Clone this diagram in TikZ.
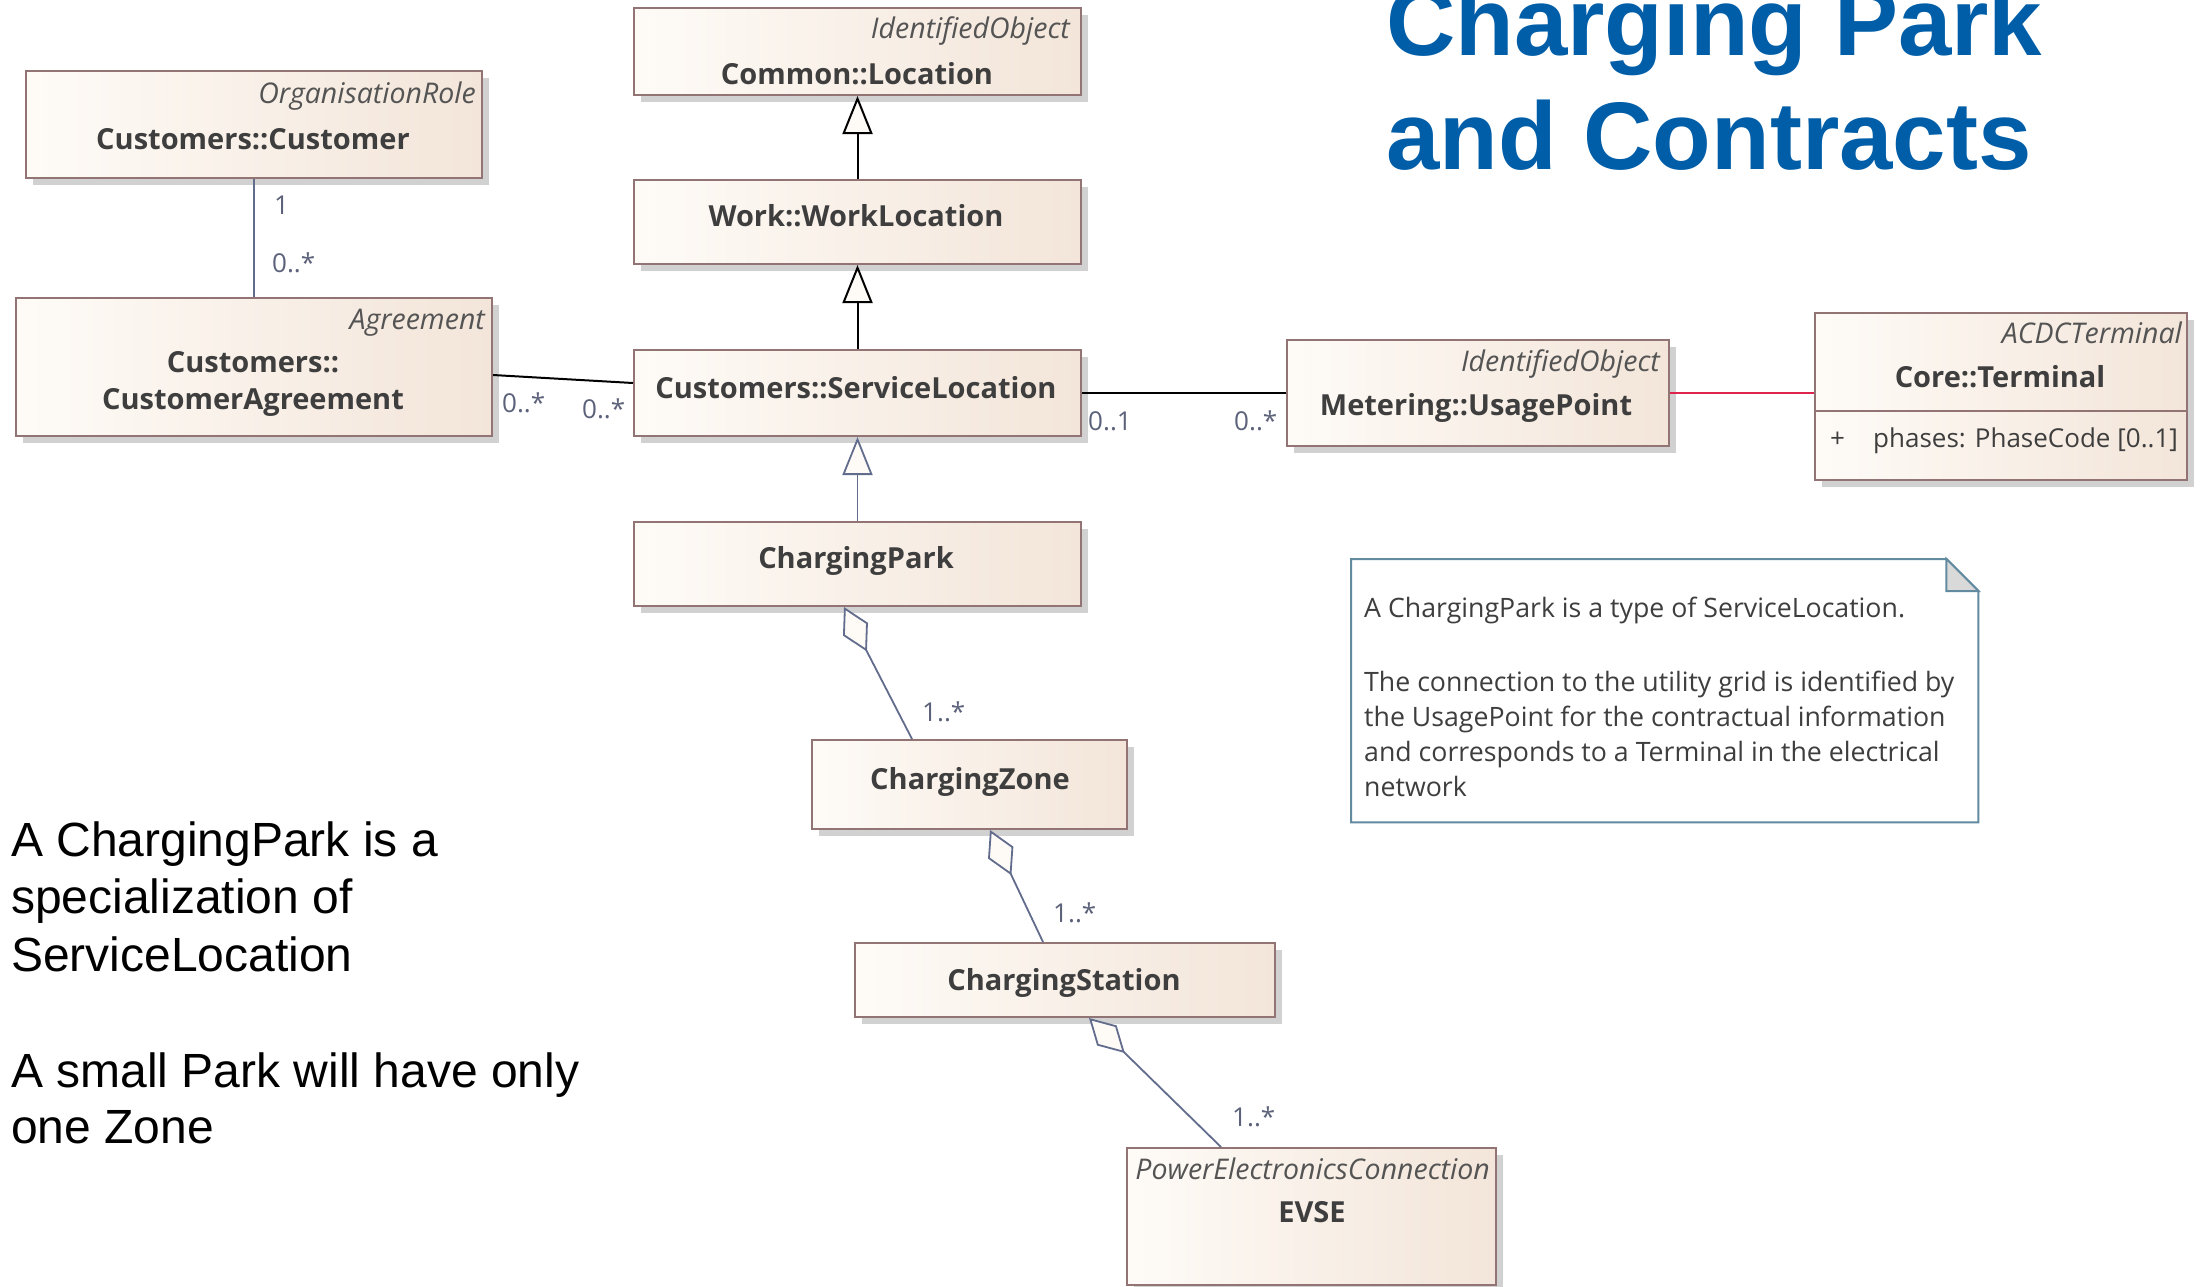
\documentclass[tikz,border=0pt]{standalone}
\usepackage{fontspec}
\setmainfont{Open Sans}
\newfontfamily\titlefont{Liberation Sans}
\newfontfamily\bodyfont{Liberation Sans}
\usetikzlibrary{arrows.meta,shadows,calc}

\definecolor{clsL}{RGB}{254,251,247}
\definecolor{clsR}{RGB}{243,229,217}
\definecolor{clsBorder}{RGB}{146,116,116}
\definecolor{clsText}{RGB}{62,62,62}
\definecolor{stereoText}{RGB}{84,84,84}
\definecolor{multText}{RGB}{92,98,122}
\definecolor{assocGrey}{RGB}{98,108,140}
\definecolor{linkRed}{RGB}{220,36,76}
\definecolor{noteBorder}{RGB}{98,138,160}
\definecolor{noteFold}{RGB}{217,217,217}
\definecolor{titleBlue}{RGB}{0,94,168}

\tikzset{
  classbox/.style={draw=clsBorder, line width=2pt, left color=clsL, right color=clsR,
    drop shadow={shadow xshift=7pt, shadow yshift=-7pt, fill=black!18, opacity=1},
    inner sep=0pt, anchor=north west},
  clsname/.style={inner sep=0pt, anchor=base, text=clsText, font=\fontsize{29}{34}\selectfont\bfseries},
  stereo/.style={inner sep=0pt, anchor=base east, text=stereoText, font=\fontsize{28.5}{33}\selectfont\itshape},
  attr/.style={inner sep=0pt, anchor=base west, text=clsText, font=\fontsize{26}{31}\selectfont},
  mult/.style={inner sep=0pt, anchor=base west, text=multText, font=\fontsize{26}{30}\selectfont},
  assoc/.style={draw=black, line width=2pt},
  greyassoc/.style={draw=assocGrey, line width=1.8pt},
  general/.style={-{Triangle[length=38pt,width=30pt,fill=clsL]}, line width=2pt},
  aggreg/.style={{Diamond[length=50pt,width=28pt,fill=clsL]}-, draw=assocGrey, line width=1.8pt},
  notetext/.style={inner sep=0pt, anchor=base west, text=clsText, font=\fontsize{26.7}{35}\selectfont},
  sidetext/.style={inner sep=0pt, anchor=base west, text=black, font=\bodyfont\fontsize{48}{58}\selectfont},
  titletext/.style={inner sep=0pt, anchor=base west, text=titleBlue, font=\titlefont\bfseries\fontsize{96}{113}\selectfont},
}

\begin{document}
\begin{tikzpicture}[x=1pt,y=-1pt]
\fill[white] (0,0) rectangle (2207,1286);
\useasboundingbox (0,0) rectangle (2207,1286);

% title
\node[titletext] (title1) at (1386,55) {Charging Park};
\node[titletext] (title2) at (1386,169) {and Contracts};

% class boxes
\node[classbox, minimum width=456pt, minimum height=107pt] (cust) at (25,70) {};
\node[classbox, minimum width=447pt, minimum height=87pt] (loc) at (633,7) {};
\node[classbox, minimum width=447pt, minimum height=84pt] (work) at (633,179) {};
\node[classbox, minimum width=476pt, minimum height=138pt] (agree) at (15,297) {};
\node[classbox, minimum width=447pt, minimum height=86pt] (svc) at (633,349) {};
\node[classbox, minimum width=382pt, minimum height=106pt] (usage) at (1286,339) {};
\node[classbox, minimum width=372pt, minimum height=167pt] (term) at (1814,312) {};
\node[classbox, minimum width=447pt, minimum height=84pt] (park) at (633,521) {};
\node[classbox, minimum width=315pt, minimum height=89pt] (zone) at (811,739) {};
\node[classbox, minimum width=420pt, minimum height=74pt] (station) at (854,942) {};
\node[classbox, minimum width=369pt, minimum height=137pt] (evse) at (1126,1147) {};

% attribute compartment of the terminal
\draw[clsBorder, line width=2pt] ([yshift=-99pt]term.north west) -- ([yshift=-99pt]term.north east);

% class texts
\node[stereo] (cust-st) at (476,103) {OrganisationRole};
\node[clsname] (cust-nm) at (253,149) {Customers::Customer};
\node[stereo] (loc-st) at (1070,38) {IdentifiedObject};
\node[clsname] (loc-nm) at (857,84) {Common::Location};
\node[clsname] (work-nm) at (856,226) {Work::WorkLocation};
\node[stereo] (agree-st) at (485,329) {Agreement};
\node[clsname] (agree-nm1) at (253,372) {Customers::};
\node[clsname] (agree-nm2) at (253,409) {CustomerAgreement};
\node[clsname] (svc-nm) at (856,398) {Customers::ServiceLocation};
\node[stereo] (usage-st) at (1660,371) {IdentifiedObject};
\node[clsname] (usage-nm) at (1476,415) {Metering::UsagePoint};
\node[stereo] (term-st) at (2182,343) {ACDCTerminal};
\node[clsname] (term-nm) at (2000,387) {Core::Terminal};
\node[attr] (term-vis) at (1830,447) {+};
\node[attr] (term-at) at (1873,447) {phases: PhaseCode [0..1]};
\node[clsname] (park-nm) at (856,568) {ChargingPark};
\node[clsname] (zone-nm) at (970,789) {ChargingZone};
\node[clsname] (station-nm) at (1064,990) {ChargingStation};
\node[stereo] (evse-st) at (1490,1179) {PowerElectronicsConnection};
\node[clsname] (evse-nm) at (1312,1222) {EVSE};

% associations
\draw[greyassoc] (cust.south) -- (agree.north);
\draw[assoc] ([yshift=-8pt]agree.east) -- ([yshift=10pt]svc.west);
\draw[assoc] (svc.east) -- (usage.west);
\draw[draw=linkRed, line width=2pt] (usage.east) -- (usage.east -| term.west);

% generalizations
\draw[general] (work.north) -- (loc.south);
\draw[general] (svc.north) -- (work.south);
\draw[general, draw=assocGrey, line width=1.8pt] (park.north) -- (svc.south);

% aggregations
\draw[aggreg] ([xshift=211pt]park.south west) -- ([xshift=101pt]zone.north west);
\draw[aggreg] ([xshift=179pt]zone.south west) -- ([xshift=189pt]station.north west);
\draw[aggreg] ([xshift=235pt]station.south west) -- ([xshift=95pt]evse.north west);

% multiplicities
\node[mult] (m-cust) at (274,214) {1};
\node[mult] (m-agree1) at (272,272) {0..*};
\node[mult] (m-agree2) at (502,412) {0..*};
\node[mult] (m-svc1) at (582,418) {0..*};
\node[mult] (m-svc2) at (1088,430) {0..1};
\node[mult] (m-usage) at (1234,430) {0..*};
\node[mult] (m-zone) at (922,721) {1..*};
\node[mult] (m-station) at (1053,922) {1..*};
\node[mult] (m-evse) at (1232,1126) {1..*};

% note
\node[inner sep=0pt, anchor=north west, minimum width=627pt, minimum height=263pt] (note) at (1351,559) {};
\draw[noteBorder, line width=2pt, line join=miter]
  (note.north west) -- ([xshift=-32pt]note.north east) -- ([yshift=-32pt]note.north east)
  -- (note.south east) -- (note.south west) -- cycle;
\filldraw[fill=noteFold, draw=noteBorder, line width=2pt]
  ([xshift=-32pt]note.north east) -- ([xshift=-32pt,yshift=-32pt]note.north east)
  -- ([yshift=-32pt]note.north east) -- cycle;
\node[notetext] (note-l1) at (1364,617) {A ChargingPark is a type of ServiceLocation.};
\node[notetext] (note-l2) at (1364,691) {The connection to the utility grid is identified by};
\node[notetext] (note-l3) at (1364,726) {the UsagePoint for the contractual information};
\node[notetext] (note-l4) at (1364,761) {and corresponds to a Terminal in the electrical};
\node[notetext] (note-l5) at (1364,796) {network};

% side remarks
\node[sidetext] (side1) at (11,856) {A ChargingPark is a};
\node[sidetext] (side2) at (11,913) {specialization of};
\node[sidetext] (side3) at (11,971) {ServiceLocation};
\node[sidetext] (side4) at (11,1087) {A small Park will have only};
\node[sidetext] (side5) at (11,1143) {one Zone};
\end{tikzpicture}
\end{document}
